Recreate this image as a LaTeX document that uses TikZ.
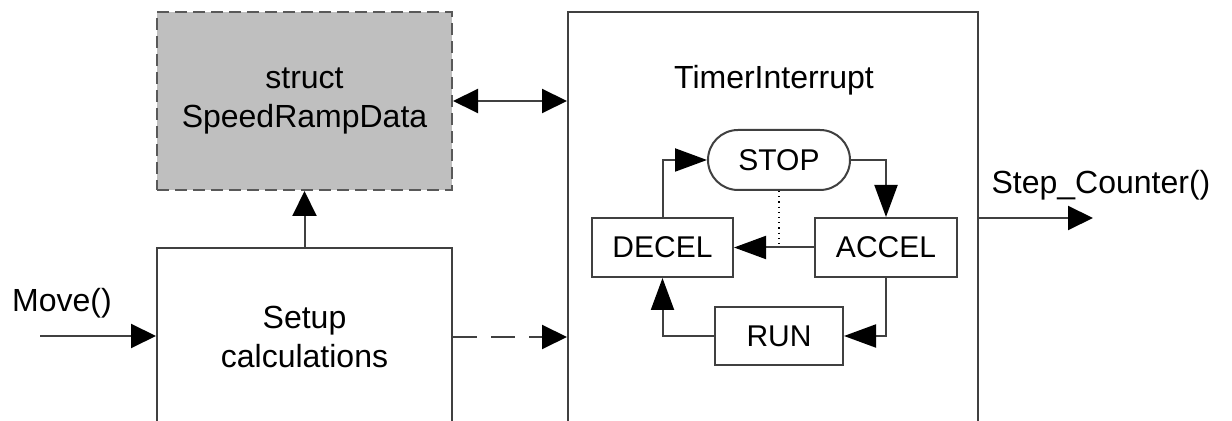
\documentclass[tikz,border=0pt]{standalone}
\usepackage{fontspec}
\setmainfont{Liberation Sans}
\usetikzlibrary{arrows.meta}
\begin{document}
\begin{tikzpicture}[x=0.5pt, y=-0.5pt, line width=1pt, >={Triangle[length=12.5pt, width=12pt, color=black]},
		every node/.style={font=\fontsize{16}{19.5}\selectfont},
		blk/.style={draw=black!75, align=center, inner sep=0pt},
		state/.style={blk, minimum height=29.5pt, font=\fontsize{15}{18}\selectfont},
		inner arrow/.style={>={Triangle[length=16pt, width=11.5pt, color=black]}}]
	\useasboundingbox (0,0) rectangle (1232,421);
	\clip (0,0) rectangle (1232,421);
	
	% 三个大方框（下沿出画面）
	\node[blk, dashed, dash pattern=on 6pt off 3pt, draw=black!65, fill=gray!50, minimum width=147.5pt, minimum height=89pt] (ramp) at (304.5,101) {struct\\SpeedRampData};
	\node[blk, minimum width=147.5pt, minimum height=89pt] (setup) at (304.5,337) {Setup\\calculations};
	\node[blk, minimum width=205pt, minimum height=215pt] (timer) at (773,227) {};
	\node (title) at (774,80) {TimerInterrupt};
	
	% 状态机
	\node[state, rounded corners=15pt, minimum width=71pt, minimum height=30pt] (stop) at (779,160) {STOP};
	\node[state, minimum width=70.5pt] (decel) at (662.5,247.5) {DECEL};
	\node[state, minimum width=71pt] (accel) at (886,247.5) {ACCEL};
	\node[state, minimum width=64pt, minimum height=29pt] (run) at (779,336) {RUN};
	
	\begin{scope}[inner arrow, draw=black!75]
		\draw[->] (decel.north) |- (stop.west);
		\draw[->] (stop.east) -| (accel.north);
		\draw[->] (accel.west) -- (decel.east);
		\draw[->] (accel.south) |- (run.east);
		\draw[->] (run.west) -| (decel.south);
		\draw[dotted, line width=0.6pt, draw=black] (stop.south) -- (stop.south |- decel.east);
	\end{scope}
	
	% 外部连线
	\coordinate (movein) at (40,336);
	\coordinate (stepout) at (1093,218);
	\draw[<->, draw=black!75] (ramp.east) -- (ramp.east -| timer.west);
	\draw[->, draw=black!75] (setup.north) -- (ramp.south);
	\draw[->, draw=black!75] (movein) -- (movein -| setup.west);
	\draw[->, draw=black!75, dash pattern=on 12pt off 7pt] (setup.east) -- (setup.east -| timer.west);
	\draw[->, draw=black!75] (timer.east |- stepout) -- (stepout);
	\node (movelbl) at (62,303) {Move()};
	\node (steplbl) at (1101,185) {Step\_Counter()};
\end{tikzpicture}
\end{document}
